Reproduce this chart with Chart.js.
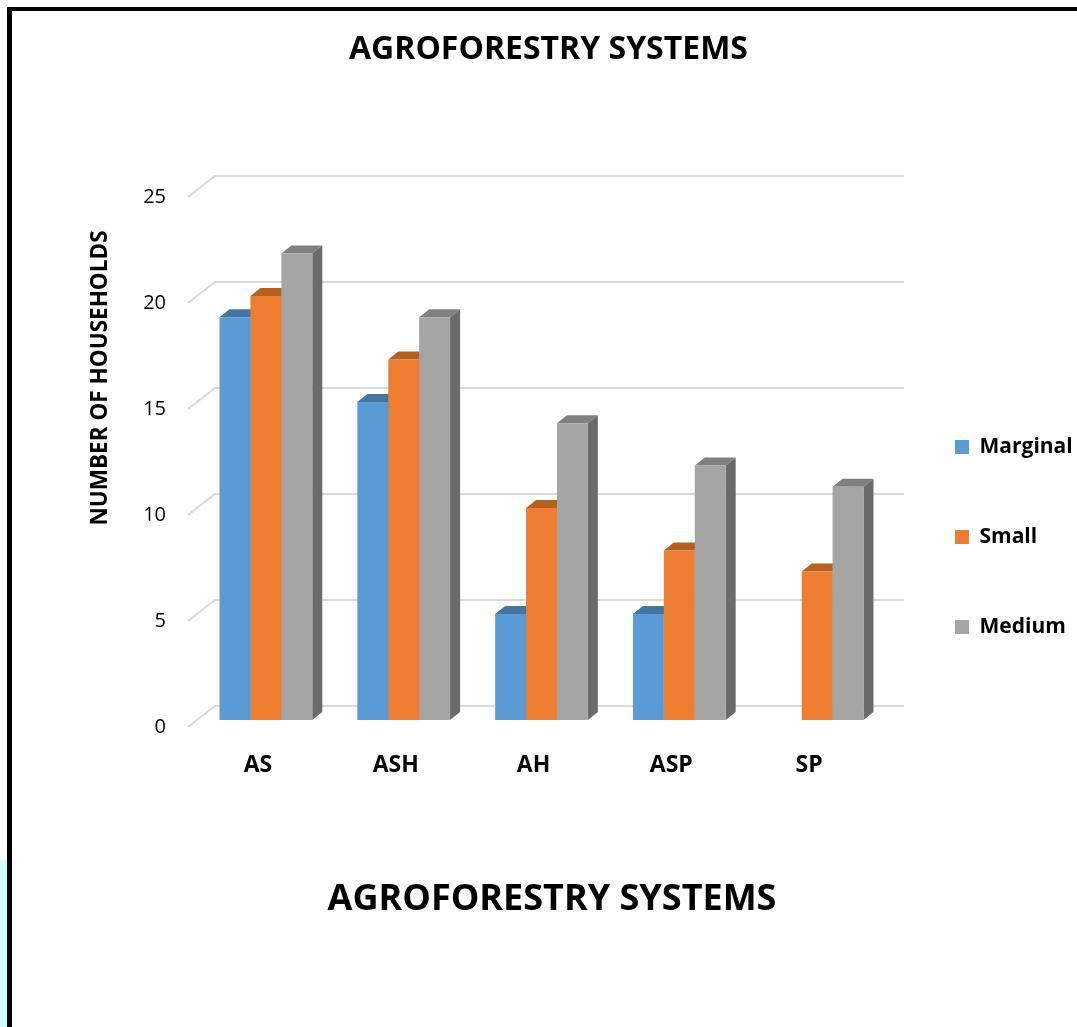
<!DOCTYPE html>
<html>
<head>
<meta charset="utf-8">
<script src="https://cdn.jsdelivr.net/npm/chart.js@4.4.1/dist/chart.umd.min.js"></script>
<style>
  body { margin: 0; background: #fff; overflow: hidden; }
  #frame { position: absolute; left: 7px; top: 7px; width: 1080px; height: 1030px;
           border-left: 5px solid #000; border-top: 4px solid #000; }
  #strip { position: absolute; left: 0; top: 860px; width: 7px; height: 170px; background: #ccffff; }
  #c { position: absolute; left: 0; top: 0; }
</style>
</head>
<body>
<div id="strip"></div>
<div id="frame"></div>
<canvas id="c" width="1077" height="1027"></canvas>
<script>
const categories = ['AS', 'ASH', 'AH', 'ASP', 'SP'];
const marginal = [19, 15, 5, 5, 0];
const small = [20, 17, 10, 8, 7];
const medium = [22, 19, 14, 12, 11];
const yMax = 25;
const yStep = 5;

const titleText = 'AGROFORESTRY SYSTEMS';
const xTitle = 'AGROFORESTRY SYSTEMS';
const yTitle = 'NUMBER OF HOUSEHOLDS';

// darker shades for the top and the side of each bar
const fronts = ['#5b9bd5', '#ed7d31', '#a5a5a5'];
const tops = ['#4475a3', '#b5601f', '#808080'];
const sides = ['#3f6c96', '#a4541b', '#6b6b6b'];

const DX = 10, DY = 8;

Chart.defaults.font.family = "'Open Sans', sans-serif";
Chart.defaults.color = '#000';

// grid with the little slant at the left, then fake 3d on the bars
const depthPlugin = {
  id: 'depth',
  beforeDatasetsDraw(chart) {
    const { ctx, chartArea, scales } = chart;
    const y = scales.y;
    ctx.save();
    ctx.strokeStyle = '#d9d9d9';
    ctx.lineWidth = 2;
    y.ticks.forEach(t => {
      const py = y.getPixelForValue(t.value);
      ctx.beginPath();
      ctx.moveTo(chartArea.left - 9, py + 7);
      ctx.lineTo(chartArea.left + 18, py - 14);
      ctx.lineTo(chartArea.right + 18, py - 14);
      ctx.stroke();
    });

    chart.data.datasets.forEach((ds, i) => {
      chart.getDatasetMeta(i).data.forEach((bar, j) => {
        if (!ds.data[j]) return;
        const x0 = bar.x - bar.width / 2;
        const x1 = bar.x + bar.width / 2;
        ctx.fillStyle = tops[i];
        ctx.beginPath();
        ctx.moveTo(x0, bar.y);
        ctx.lineTo(x0 + DX, bar.y - DY);
        ctx.lineTo(x1 + DX, bar.y - DY);
        ctx.lineTo(x1, bar.y);
        ctx.closePath();
        ctx.fill();
        ctx.fillStyle = sides[i];
        ctx.beginPath();
        ctx.moveTo(x1, bar.y);
        ctx.lineTo(x1 + DX, bar.y - DY);
        ctx.lineTo(x1 + DX, bar.base - DY);
        ctx.lineTo(x1, bar.base);
        ctx.closePath();
        ctx.fill();
      });
    });
    ctx.restore();
  },
  afterDraw(chart) {
    const ctx = chart.ctx;
    ctx.save();
    ctx.fillStyle = '#000';
    ctx.textAlign = 'center';
    ctx.textBaseline = 'middle';
    ctx.font = "bold 36px 'Open Sans'";
    ctx.fillText(xTitle, 552, 900);
    ctx.translate(101, 378);
    ctx.rotate(-Math.PI / 2);
    ctx.font = "bold 22.5px 'Open Sans'";
    ctx.fillText(yTitle, 0, 0);
    ctx.restore();
  }
};

new Chart(document.getElementById('c'), {
  type: 'bar',
  data: {
    labels: categories,
    datasets: [
      { label: 'Marginal', data: marginal, backgroundColor: fronts[0] },
      { label: 'Small', data: small, backgroundColor: fronts[1] },
      { label: 'Medium', data: medium, backgroundColor: fronts[2] }
    ]
  },
  options: {
    responsive: false,
    animation: false,
    categoryPercentage: 0.673,
    barPercentage: 1.0,
    layout: { padding: { left: 20, right: 0, top: 0, bottom: 0 } },
    plugins: {
      title: {
        display: true,
        text: titleText,
        color: '#000',
        font: { size: 32, weight: 'bold' },
        padding: { top: 30.8, bottom: 120.8 }
      },
      legend: {
        position: 'right',
        align: 'start',
        maxWidth: 191,
        title: { display: true, text: '', font: { size: 20, lineHeight: 1 }, padding: { top: 347.5, bottom: 0 } },
        labels: {
          boxWidth: 14,
          boxHeight: 14,
          padding: 69,
          color: '#000',
          font: { size: 21, weight: 'bold' }
        }
      },
      tooltip: { enabled: false }
    },
    scales: {
      x: {
        grid: { display: false, drawTicks: false },
        border: { display: false },
        ticks: { padding: 32, labelOffset: -8, color: '#000', font: { size: 23, weight: 'bold' } },
        afterFit(scale) { scale.height = 307; }
      },
      y: {
        min: 0,
        max: yMax,
        grid: { display: false, drawTicks: false },
        border: { display: false },
        ticks: { stepSize: yStep, padding: 31, labelOffset: 7, color: '#000', font: { size: 20 } },
        afterFit(scale) { scale.width = 177; }
      }
    }
  },
  plugins: [depthPlugin]
});
</script>
</body>
</html>
